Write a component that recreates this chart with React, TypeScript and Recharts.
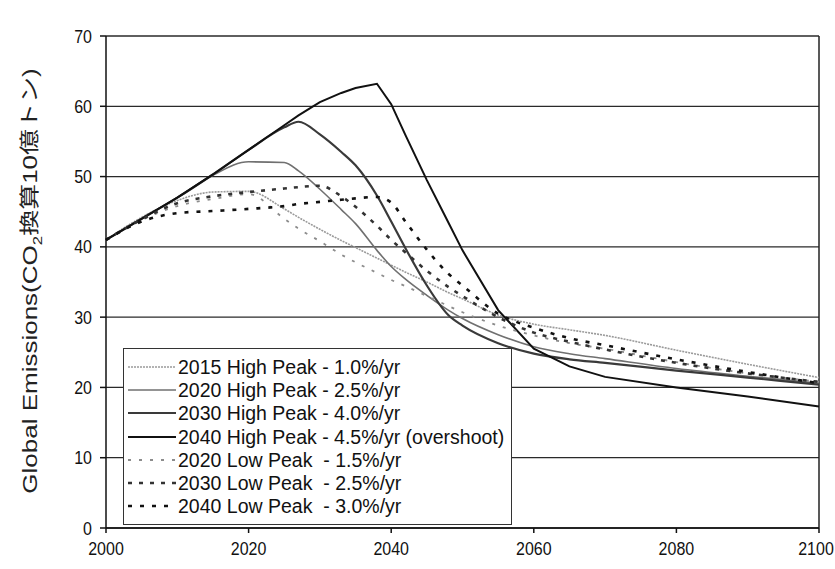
import React from 'react';
import { LineChart, Line, XAxis, YAxis, CartesianGrid, Legend, ReferenceLine } from 'recharts';

const years = [2000, 2005, 2010, 2015, 2020, 2025, 2027, 2030, 2033, 2035, 2038, 2040, 2042, 2045, 2048, 2050, 2055, 2060, 2065, 2070, 2080, 2090, 2100];

const highPeak2015 = [41, 44.2, 46.6, 47.8, 47.9, 45.4, 44.2, 42.5, 40.9, 39.9, 38.4, 37.4, 36.4, 35.0, 33.5, 32.6, 30.3, 29.0, 28.2, 27.4, 25.3, 23.3, 21.4];
const highPeak2020 = [41, 44.0, 47.0, 50.2, 52.1, 52.0, 50.8, 48.2, 45.3, 43.3, 39.5, 37.2, 35.4, 33.1, 31.0, 29.8, 27.5, 25.8, 24.8, 24.1, 22.7, 21.6, 20.6];
const highPeak2030 = [41, 44.0, 47.0, 50.3, 53.8, 57.0, 57.8, 56.0, 53.5, 51.6, 47.3, 43.6, 39.8, 34.5, 30.3, 28.8, 26.3, 24.8, 24.0, 23.5, 22.4, 21.4, 20.4];
const highPeak2040 = [41, 44.0, 47.0, 50.3, 53.8, 57.3, 58.7, 60.6, 61.9, 62.6, 63.2, 60.3, 55.9, 49.5, 43.5, 39.5, 31.0, 25.5, 23.0, 21.5, 20.0, 18.7, 17.3];
const lowPeak2020 = [41, 43.8, 45.8, 46.8, 47.5, 44.0, 42.6, 40.8, 38.9, 37.8, 36.3, 35.3, 34.4, 33.0, 31.6, 30.7, 28.8, 27.4, 26.3, 25.5, 23.6, 22.0, 20.8];
const lowPeak2030 = [41, 43.9, 46.2, 47.2, 47.8, 48.3, 48.5, 48.7, 47.2, 45.7, 43.0, 41.0, 39.2, 36.6, 34.3, 33.0, 30.0, 27.8, 26.5, 25.4, 23.5, 22.0, 20.8];
const lowPeak2040 = [41, 43.6, 44.8, 45.1, 45.4, 45.8, 46.1, 46.4, 46.7, 46.9, 47.1, 46.3, 43.6, 39.6, 36.2, 34.5, 30.5, 28.5, 27.0, 26.0, 24.0, 22.2, 20.6];

const xTicks = [2000, 2020, 2040, 2060, 2080, 2100];
const yTicks = [0, 10, 20, 30, 40, 50, 60, 70];

const seriesNames = [
  '2015 High Peak - 1.0%/yr',
  '2020 High Peak - 2.5%/yr',
  '2030 High Peak - 4.0%/yr',
  '2040 High Peak - 4.5%/yr (overshoot)',
  '2020 Low Peak  - 1.5%/yr',
  '2030 Low Peak  - 2.5%/yr',
  '2040 Low Peak  - 3.0%/yr',
];
const seriesValues = [highPeak2015, highPeak2020, highPeak2030, highPeak2040, lowPeak2020, lowPeak2030, lowPeak2040];
const seriesKeys = ['hp2015', 'hp2020', 'hp2030', 'hp2040', 'lp2020', 'lp2030', 'lp2040'];

const seriesStyles = [
  { color: '#9a9a9a', width: 1.6, dash: '2 1', type: 'monotone' },
  { color: '#707070', width: 1.6, dash: undefined, type: 'monotone' },
  { color: '#3a3a3a', width: 2.2, dash: undefined, type: 'monotone' },
  { color: '#111111', width: 2.0, dash: undefined, type: 'linear' },
  { color: '#8c8c8c', width: 1.8, dash: '3 8', type: 'monotone' },
  { color: '#333333', width: 2.6, dash: '4 7', type: 'monotone' },
  { color: '#111111', width: 2.6, dash: '4 8', type: 'monotone' },
];

const data = years.map((year, i) => {
  const row: Record<string, number> = { year };
  seriesKeys.forEach((k, j) => {
    row[k] = seriesValues[j][i];
  });
  return row;
});

const FONT = "'Liberation Sans', Arial, 'Noto Sans CJK JP', sans-serif";

const LegendBox = () => (
  <div
    style={{
      width: 389,
      height: 177,
      border: '1.5px solid #333',
      background: '#fff',
      boxSizing: 'border-box',
      fontFamily: FONT,
      fontSize: 19.5,
      color: '#111',
      paddingTop: 6,
      paddingLeft: 3,
    }}
  >
    {seriesKeys.map((k, i) => (
      <div key={k} style={{ display: 'flex', alignItems: 'center', height: 23.3 }}>
        <svg width={50} height={10} style={{ flex: 'none' }}>
          <line
            x1={1}
            y1={5}
            x2={49}
            y2={5}
            stroke={seriesStyles[i].color}
            strokeWidth={seriesStyles[i].width}
            strokeDasharray={seriesStyles[i].dash}
          />
        </svg>
        <span style={{ marginLeft: 1, whiteSpace: 'pre', lineHeight: '22px' }}>{seriesNames[i]}</span>
      </div>
    ))}
  </div>
);

const YLabel = () => (
  <text
    x={0}
    y={0}
    transform="translate(37 281) rotate(-90) scale(1.3 1)"
    textAnchor="middle"
    fontFamily={FONT}
    fontSize={20}
    fill="#222"
  >
    <tspan>Global Emissions(CO</tspan>
    <tspan fontSize={13} dy={5}>2</tspan>
    <tspan dy={-5}>換算10億トン)</tspan>
  </text>
);

const XTick = (props: any) => {
  const { x, y, payload } = props;
  const shift = payload.value === 2100 ? -3 : 0;
  return (
    <g transform={`translate(${x + shift},${y})`}>
      <text x={0} y={0} dy="0.71em" textAnchor="middle" fontFamily={FONT} fontSize={16} fill="#111" transform="scale(1 1.15)">
        {payload.value}
      </text>
    </g>
  );
};

const YTick = (props: any) => {
  const { x, y, payload } = props;
  return (
    <g transform={`translate(${x},${y})`}>
      <text x={0} y={0} dy="0.355em" textAnchor="end" fontFamily={FONT} fontSize={16} fill="#111" transform="scale(1 1.15)">
        {payload.value}
      </text>
    </g>
  );
};

export default function App() {
  return (
    <div style={{ position: 'absolute', left: 0, top: 0, width: 835, height: 569, background: '#fff' }}>
      <LineChart
        width={835}
        height={569}
        data={data}
        margin={{ top: 36, right: 16, bottom: 11, left: 0 }}
      >
        <CartesianGrid horizontal vertical={false} stroke="#2a2a2a" strokeWidth={1.3} />
        <XAxis
          dataKey="year"
          type="number"
          domain={[2000, 2100]}
          ticks={xTicks}
          height={30}
          tickSize={5}
          tickMargin={9}
          stroke="#111"
          strokeWidth={1.5}
          tick={<XTick />}
        />
        <YAxis
          type="number"
          domain={[0, 70]}
          ticks={yTicks}
          width={106}
          tickSize={6}
          tickMargin={8}
          stroke="#111"
          strokeWidth={1.5}
          tick={<YTick />}
          label={<YLabel />}
        />
        <ReferenceLine x={2100} stroke="#222" strokeWidth={1.5} />
        {seriesKeys.map((k, i) => (
          <Line
            key={k}
            dataKey={k}
            name={seriesNames[i]}
            type={seriesStyles[i].type as any}
            stroke={seriesStyles[i].color}
            strokeWidth={seriesStyles[i].width}
            strokeDasharray={seriesStyles[i].dash}
            dot={false}
            activeDot={false}
            isAnimationActive={false}
          />
        ))}
        <Legend
          layout="vertical"
          align="center"
          verticalAlign="middle"
          content={() => <LegendBox />}
          wrapperStyle={{ position: 'absolute', left: 123, top: 348, width: 389, height: 177 }}
        />
      </LineChart>
    </div>
  );
}
